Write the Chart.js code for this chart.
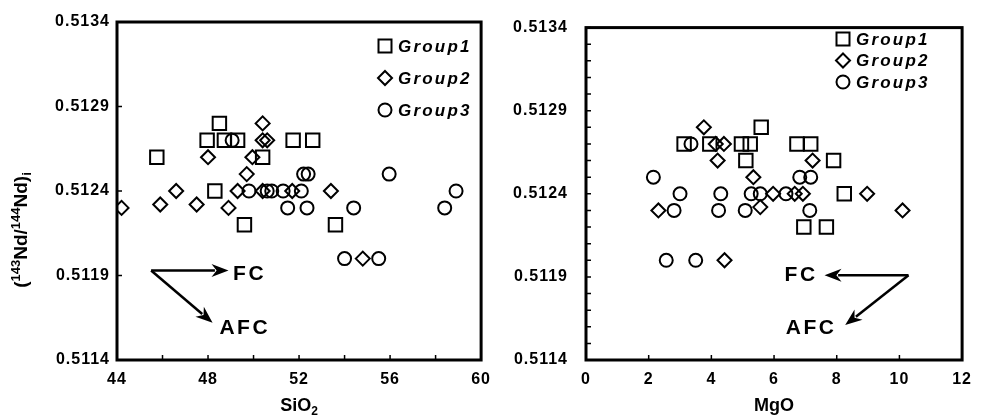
<!DOCTYPE html>
<html>
<head>
<meta charset="utf-8">
<script src="https://cdn.jsdelivr.net/npm/chart.js@4.4.1/dist/chart.umd.min.js"></script>
<style>
    html, body { margin: 0; padding: 0; background: #fff; }
    #wrap { position: relative; width: 981px; height: 419px; overflow: hidden; }
    .panel { position: absolute; top: 0; height: 419px; }
    #left { left: 0; width: 500px; }
    #right { left: 500px; width: 481px; }
</style>
</head>
<body>
<div id="wrap">
    <div class="panel" id="left"><canvas id="chartLeft" width="500" height="419"></canvas></div>
    <div class="panel" id="right"><canvas id="chartRight" width="481" height="419"></canvas></div>
</div>
<script>
// ---- data ----
const groupNames = ['Group1', 'Group2', 'Group3'];

const ndTicks = [0.5114, 0.5119, 0.5124, 0.5129, 0.5134];
const sio2Ticks = [44, 48, 52, 56, 60];
const mgoTicks = [0, 2, 4, 6, 8, 10, 12];

// SiO2 panel
const sio2G1 = [48.5, 47.96, 48.72, 49.3, 51.74, 52.6, 45.75, 50.4, 48.3, 49.6, 53.6];
const ndSio2G1 = [0.5128, 0.5127, 0.5127, 0.5127, 0.5127, 0.5127, 0.5126, 0.5126, 0.5124, 0.5122, 0.5122];
const sio2G2 = [50.4, 50.4, 50.6, 48.0, 49.95, 49.7, 46.6, 49.3, 50.4, 51.7, 53.4, 44.2, 45.9, 47.5, 48.9, 54.8];
const ndSio2G2 = [0.5128, 0.5127, 0.5127, 0.5126, 0.5126, 0.5125, 0.5124, 0.5124, 0.5124, 0.5124, 0.5124, 0.5123, 0.51232, 0.51232, 0.5123, 0.5120];
const sio2G3 = [49.06, 52.2, 52.4, 55.96, 49.8, 50.6, 50.8, 51.3, 52.1, 58.9, 51.5, 52.35, 54.4, 58.4, 54.0, 55.5];
const ndSio2G3 = [0.5127, 0.5125, 0.5125, 0.5125, 0.5124, 0.5124, 0.5124, 0.5124, 0.5124, 0.5124, 0.5123, 0.5123, 0.5123, 0.5123, 0.5120, 0.5120];

// MgO panel
const mgoG1 = [5.59, 3.13, 3.95, 4.96, 5.24, 6.73, 7.17, 5.1, 7.9, 8.24, 6.95, 7.67];
const ndMgoG1 = [0.5128, 0.5127, 0.5127, 0.5127, 0.5127, 0.5127, 0.5127, 0.5126, 0.5126, 0.5124, 0.5122, 0.5122];
const mgoG2 = [3.76, 4.14, 4.4, 4.2, 7.23, 5.34, 5.97, 6.66, 6.92, 8.97, 2.31, 5.56, 10.1, 4.42];
const ndMgoG2 = [0.5128, 0.5127, 0.5127, 0.5126, 0.5126, 0.5125, 0.5124, 0.5124, 0.5124, 0.5124, 0.5123, 0.51232, 0.5123, 0.5120];
const mgoG3 = [3.35, 2.15, 6.82, 7.17, 3.0, 4.3, 5.27, 5.56, 6.38, 2.81, 4.23, 5.08, 7.14, 2.56, 3.5];
const ndMgoG3 = [0.5127, 0.5125, 0.5125, 0.5125, 0.5124, 0.5124, 0.5124, 0.5124, 0.5124, 0.5123, 0.5123, 0.5123, 0.5123, 0.5120, 0.5120];

// trend arrows (data units)
const arrowsSio2 = [
    { from: [45.5, 0.51193], to: [48.9, 0.51193], label: 'FC', at: [49.1, 0.51191], align: 'left' },
    { from: [45.5, 0.51193], to: [48.2, 0.51162], label: 'AFC', at: [48.5, 0.51159], align: 'left' }
];
const arrowsMgo = [
    { from: [10.29, 0.51191], to: [7.61, 0.51191], label: 'FC', at: [7.39, 0.51191], align: 'right' },
    { from: [10.29, 0.51191], to: [8.27, 0.51161], label: 'AFC', at: [7.99, 0.51159], align: 'right' }
];

// ---- helpers ----
const pointStyles = ['rect', 'rectRot', 'circle'];
const pointRadii = [9.5, 7, 6.5];
const fontFamily = '"Liberation Sans", Arial, sans-serif';

function toPoints(xs, ys) {
    return xs.map((x, i) => ({ x: x, y: ys[i] }));
}

function makeDatasets(sets) {
    return sets.map((s, i) => ({
        label: groupNames[i],
        data: toPoints(s[0], s[1]),
        pointStyle: pointStyles[i],
        pointRadius: pointRadii[i],
        pointHoverRadius: pointRadii[i],
        borderColor: '#000',
        backgroundColor: 'rgba(0,0,0,0)',
        borderWidth: 2,
        showLine: false
    }));
}

function drawMarker(ctx, style, x, y) {
    ctx.beginPath();
    if (style === 'rect') {
        ctx.rect(x - 6.5, y - 6.5, 13, 13);
    } else if (style === 'rectRot') {
        ctx.moveTo(x, y - 7);
        ctx.lineTo(x + 7, y);
        ctx.lineTo(x, y + 7);
        ctx.lineTo(x - 7, y);
        ctx.closePath();
    } else {
        ctx.arc(x, y, 6.5, 0, Math.PI * 2);
    }
    ctx.stroke();
}

function drawPieces(ctx, pieces, cx, cy) {
    // pieces: [text, size, baselineShift]
    let total = 0;
    pieces.forEach(p => {
        ctx.font = 'bold ' + p[1] + 'px ' + fontFamily;
        total += ctx.measureText(p[0]).width;
    });
    let x = cx - total / 2;
    pieces.forEach(p => {
        ctx.font = 'bold ' + p[1] + 'px ' + fontFamily;
        ctx.fillText(p[0], x, cy + p[2]);
        x += ctx.measureText(p[0]).width;
    });
}

const decorPlugin = {
    id: 'decor',
    beforeDraw(chart) {
        chart.ctx.letterSpacing = '1px';
    },
    afterDraw(chart, args, opts) {
        const ctx = chart.ctx;
        const a = chart.chartArea;
        const xs = chart.scales.x;
        const ys = chart.scales.y;
        ctx.save();
        ctx.letterSpacing = '0px';
        ctx.strokeStyle = '#000';
        ctx.fillStyle = '#000';

        // frame
        ctx.lineWidth = 3;
        ctx.strokeRect(a.left, a.top, a.right - a.left, a.bottom - a.top);

        // inward ticks
        ctx.lineWidth = 1.5;
        ctx.beginPath();
        for (let v = xs.min; v <= xs.max + 1e-9; v += opts.xMinor) {
            const px = xs.getPixelForValue(v);
            ctx.moveTo(px, a.bottom);
            ctx.lineTo(px, a.bottom - 5);
        }
        for (let v = ys.min; v <= ys.max + 1e-9; v += opts.yMinor) {
            const py = ys.getPixelForValue(v);
            ctx.moveTo(a.left, py);
            ctx.lineTo(a.left + 5, py);
        }
        ctx.stroke();

        // arrows
        opts.arrows.forEach(ar => {
            const x0 = xs.getPixelForValue(ar.from[0]), y0 = ys.getPixelForValue(ar.from[1]);
            const x1 = xs.getPixelForValue(ar.to[0]), y1 = ys.getPixelForValue(ar.to[1]);
            const ang = Math.atan2(y1 - y0, x1 - x0);
            const hl = 17, hw = 6.5;
            ctx.lineWidth = 2.5;
            ctx.beginPath();
            ctx.moveTo(x0, y0);
            ctx.lineTo(x1 - Math.cos(ang) * hl * 0.8, y1 - Math.sin(ang) * hl * 0.8);
            ctx.stroke();
            ctx.beginPath();
            ctx.moveTo(x1, y1);
            ctx.lineTo(x1 - Math.cos(ang) * hl - Math.sin(ang) * hw, y1 - Math.sin(ang) * hl + Math.cos(ang) * hw);
            ctx.lineTo(x1 - Math.cos(ang) * hl * 0.7, y1 - Math.sin(ang) * hl * 0.7);
            ctx.lineTo(x1 - Math.cos(ang) * hl + Math.sin(ang) * hw, y1 - Math.sin(ang) * hl - Math.cos(ang) * hw);
            ctx.closePath();
            ctx.fill();

            ctx.font = 'bold 21px ' + fontFamily;
            ctx.letterSpacing = '2.5px';
            ctx.textBaseline = 'middle';
            ctx.textAlign = ar.align;
            ctx.fillText(ar.label, xs.getPixelForValue(ar.at[0]), ys.getPixelForValue(ar.at[1]));
            ctx.letterSpacing = '0px';
        });

        // legend
        const lg = opts.legend;
        ctx.lineWidth = 2;
        chart.data.datasets.forEach((ds, i) => {
            const y = lg.y + i * lg.dy;
            drawMarker(ctx, ds.pointStyle, lg.x, y);
            ctx.font = 'italic bold 17px ' + fontFamily;
            ctx.letterSpacing = '2.2px';
            ctx.textAlign = 'left';
            ctx.textBaseline = 'middle';
            ctx.fillText(ds.label, lg.x + 13, y + 1);
            ctx.letterSpacing = '0px';
        });

        // x title
        ctx.textAlign = 'left';
        ctx.textBaseline = 'alphabetic';
        drawPieces(ctx, opts.xTitle, (a.left + a.right) / 2, 411);

        // y title
        if (opts.yTitle) {
            ctx.translate(27, 230);
            ctx.rotate(-Math.PI / 2);
            drawPieces(ctx, opts.yTitle, 0, 0);
        }
        ctx.restore();
    }
};

function makeChart(canvasId, sets, xMin, xMax, xTicks, cfg) {
    const tickFont = { family: fontFamily, size: 16, weight: 'bold' };
    return new Chart(document.getElementById(canvasId), {
        type: 'scatter',
        data: { datasets: makeDatasets(sets) },
        options: {
            responsive: false,
            animation: false,
            layout: { padding: { top: 22, right: cfg.padRight, left: 0, bottom: 0 } },
            plugins: {
                legend: { display: false },
                tooltip: { enabled: false },
                decor: {
                    xMinor: cfg.xMinor,
                    yMinor: cfg.yMinor,
                    arrows: cfg.arrows,
                    legend: cfg.legend,
                    xTitle: cfg.xTitle,
                    yTitle: cfg.yTitle
                }
            },
            scales: {
                x: {
                    type: 'linear',
                    min: xMin,
                    max: xMax,
                    grid: { display: false, drawTicks: false },
                    border: { display: false },
                    afterBuildTicks: s => { s.ticks = xTicks.map(v => ({ value: v })); },
                    afterFit: s => { s.height = 59; },
                    ticks: { font: tickFont, color: '#000', padding: 10, maxRotation: 0, autoSkip: false }
                },
                y: {
                    type: 'linear',
                    min: ndTicks[0],
                    max: ndTicks[ndTicks.length - 1],
                    grid: { display: false, drawTicks: false },
                    border: { display: false },
                    afterBuildTicks: s => { s.ticks = ndTicks.map(v => ({ value: v })); },
                    afterFit: s => { s.width = cfg.yWidth; },
                    ticks: {
                        font: tickFont, color: '#000', padding: cfg.yPad, autoSkip: false,
                        callback: v => Number(v).toFixed(4)
                    }
                }
            }
        },
        plugins: [decorPlugin]
    });
}

makeChart('chartLeft',
    [[sio2G1, ndSio2G1], [sio2G2, ndSio2G2], [sio2G3, ndSio2G3]],
    sio2Ticks[0], sio2Ticks[sio2Ticks.length - 1], sio2Ticks,
    {
        padRight: 7, yWidth: 117, yPad: 7, xMinor: 2, yMinor: 0.0005,
        arrows: arrowsSio2,
        legend: { x: 385, y: 46, dy: 32 },
        xTitle: [['SiO', 18, 0], ['2', 12, 4]],
        yTitle: [['(', 19, 0], ['143', 13, -7], ['Nd/', 19, 0], ['144', 13, -7], ['Nd)', 19, 0], ['i', 13, 4]]
    });

makeChart('chartRight',
    [[mgoG1, ndMgoG1], [mgoG2, ndMgoG2], [mgoG3, ndMgoG3]],
    mgoTicks[0], mgoTicks[mgoTicks.length - 1], mgoTicks,
    {
        padRight: 15, yWidth: 86, yPad: 18, xMinor: 2, yMinor: 0.0001,
        arrows: arrowsMgo,
        legend: { x: 343, y: 39, dy: 21.5 },
        xTitle: [['MgO', 18, 0]],
        yTitle: null
    });
</script>
</body>
</html>
